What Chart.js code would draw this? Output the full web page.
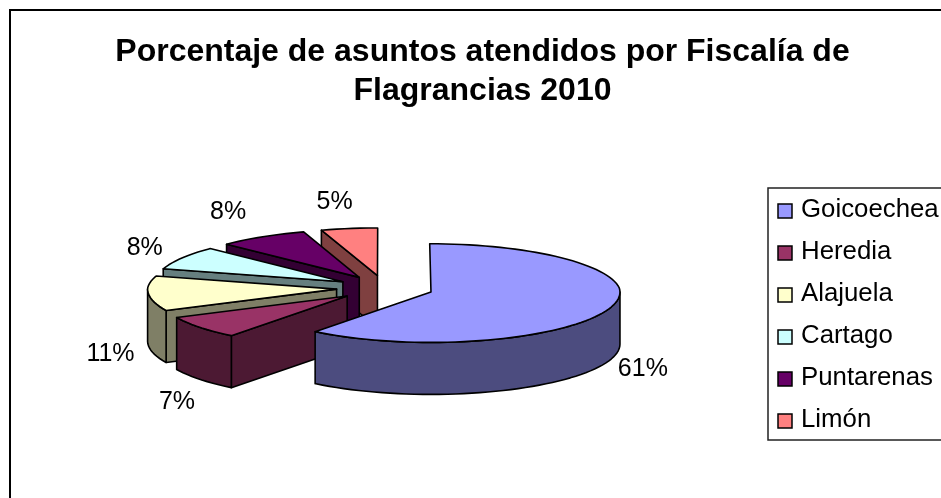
<!DOCTYPE html>
<html><head><meta charset="utf-8">
<style>html,body{margin:0;padding:0;background:#fff;overflow:hidden}canvas{display:block}</style>
<script src="https://cdn.jsdelivr.net/npm/chart.js@4"></script>
</head><body>
<canvas id="c" width="941" height="498"></canvas>
<script>
const titleLines = ["Porcentaje de asuntos atendidos por Fiscalía de", "Flagrancias 2010"];
const categories = ["Goicoechea", "Heredia", "Alajuela", "Cartago", "Puntarenas", "Limón"];
const percentages = [60.5, 7.4, 11.4, 7.8, 7.9, 5.0];
const sliceColors = ["#9999FF", "#993366", "#FFFFCC", "#CCFFFF", "#660066", "#FF8080"];

const FONT = '"Liberation Sans", Arial, sans-serif';
const VIEW = {x0: 385, y0: 288, radius: 189, squash: 0.26, depth: 52, persp: 0.03, backFlat: 0.02};
const LEG = {left: 768, top: 188, bottom: 440, swatchX: 778, swatchSize: 14, textX: 801, firstY: 209, step: 42};
const LABEL_NUDGE = [[-1, -1], [5, 4], [-2, 6], [-6, 5], [-15, 1], [-9, 3]];

function halfTone(hex) {
  const n = parseInt(hex.slice(1), 16);
  return `rgb(${(n >> 16 & 255) >> 1},${(n >> 8 & 255) >> 1},${(n & 255) >> 1})`;
}

const pie3d = {
  id: 'pie3d',
  beforeDraw(chart) {
    const ctx = chart.ctx;
    ctx.save();
    ctx.strokeStyle = '#000';
    ctx.lineWidth = 2;
    ctx.strokeRect(10, 10, 1000, 1000);
    ctx.restore();
  },
  beforeDatasetsDraw(chart) {
    const ctx = chart.ctx;
    const arcs = chart.getDatasetMeta(0).data;
    const k = VIEW.radius / arcs[0].outerRadius;
    const proj = (dx, dy, down) => [
      VIEW.x0 + dx * (1 + VIEW.persp * Math.min(dy, 0) / VIEW.radius),
      VIEW.y0 + dy * VIEW.squash * (1 + VIEW.backFlat * dy / VIEW.radius) + (down ? VIEW.depth : 0)
    ];
    const poly = (pts, fill) => {
      ctx.beginPath();
      pts.forEach((p, i) => i ? ctx.lineTo(p[0], p[1]) : ctx.moveTo(p[0], p[1]));
      ctx.closePath();
      ctx.fillStyle = fill;
      ctx.fill();
      ctx.stroke();
    };
    ctx.save();
    ctx.strokeStyle = '#000';
    ctx.lineWidth = 1.6;
    ctx.lineJoin = 'round';
    for (let i = arcs.length - 1; i >= 0; i--) {
      const a = arcs[i];
      const mid = (a.startAngle + a.endAngle) / 2;
      const off = a.options.offset * k;
      const vx = Math.cos(mid) * off, vy = Math.sin(mid) * off;
      const R = VIEW.radius;
      const rim = (t, down) => proj(vx + Math.cos(t) * R, vy + Math.sin(t) * R, down);
      const V = proj(vx, vy, false), Vd = proj(vx, vy, true);
      const base = sliceColors[i], wall = halfTone(base);
      if (Math.cos(a.startAngle) < -1e-6) poly([V, rim(a.startAngle), rim(a.startAngle, true), Vd], wall);
      if (Math.cos(a.endAngle) > 1e-6) poly([V, rim(a.endAngle), rim(a.endAngle, true), Vd], wall);
      const from = Math.max(a.startAngle, 0), to = Math.min(a.endAngle, Math.PI);
      const stepA = Math.PI / 72;
      const samples = [];
      for (let t = from; t < to; t += stepA) samples.push(t);
      samples.push(to);
      if (to > from) {
        const topEdge = samples.map(t => rim(t));
        const botEdge = samples.map(t => rim(t, true)).reverse();
        poly(topEdge.concat(botEdge), wall);
      }
      const ts = [];
      for (let t = a.startAngle; t < a.endAngle; t += stepA) ts.push(t);
      ts.push(a.endAngle);
      poly([V].concat(ts.map(t => rim(t))), base);
    }
    ctx.fillStyle = '#000';
    ctx.font = '25px ' + FONT;
    ctx.textAlign = 'center';
    ctx.textBaseline = 'middle';
    arcs.forEach((a, i) => {
      const mid = (a.startAngle + a.endAngle) / 2;
      const off = a.options.offset * k, R = VIEW.radius;
      const c = Math.cos(mid), s = Math.sin(mid);
      const p = proj(c * (off + R), s * (off + R), s > 0);
      ctx.fillText(Math.round(percentages[i]) + '%', p[0] + c * 36 + LABEL_NUDGE[i][0], p[1] + s * 30 + LABEL_NUDGE[i][1]);
    });
    ctx.restore();
    return false;
  },
  afterDraw(chart) {
    const ctx = chart.ctx;
    ctx.save();
    ctx.strokeStyle = '#222';
    ctx.lineWidth = 1.5;
    ctx.strokeRect(LEG.left, LEG.top, 400, LEG.bottom - LEG.top);
    ctx.font = '25.8px ' + FONT;
    ctx.textAlign = 'left';
    ctx.textBaseline = 'middle';
    categories.forEach((name, i) => {
      const y = LEG.firstY + i * LEG.step;
      ctx.fillStyle = sliceColors[i];
      ctx.fillRect(LEG.swatchX, y + 2 - LEG.swatchSize / 2, LEG.swatchSize, LEG.swatchSize);
      ctx.strokeStyle = '#000';
      ctx.strokeRect(LEG.swatchX, y + 2 - LEG.swatchSize / 2, LEG.swatchSize, LEG.swatchSize);
      ctx.fillStyle = '#000';
      ctx.fillText(name, LEG.textX, y + 1);
    });
    ctx.restore();
  }
};

new Chart(document.getElementById('c'), {
  type: 'pie',
  data: {
    labels: categories,
    datasets: [{data: percentages, backgroundColor: sliceColors, borderColor: '#000', borderWidth: 1, offset: 44}]
  },
  options: {
    responsive: false,
    animation: false,
    layout: {padding: {left: 24, right: 0, top: 0, bottom: 0}},
    plugins: {
      legend: {display: false},
      tooltip: {enabled: false},
      title: {
        display: true,
        text: titleLines,
        color: '#000',
        align: 'center',
        font: {family: FONT, size: 32, weight: 'bold', lineHeight: 1.23},
        padding: {top: 32, bottom: 0}
      }
    }
  },
  plugins: [pie3d]
});
</script>
</body></html>
